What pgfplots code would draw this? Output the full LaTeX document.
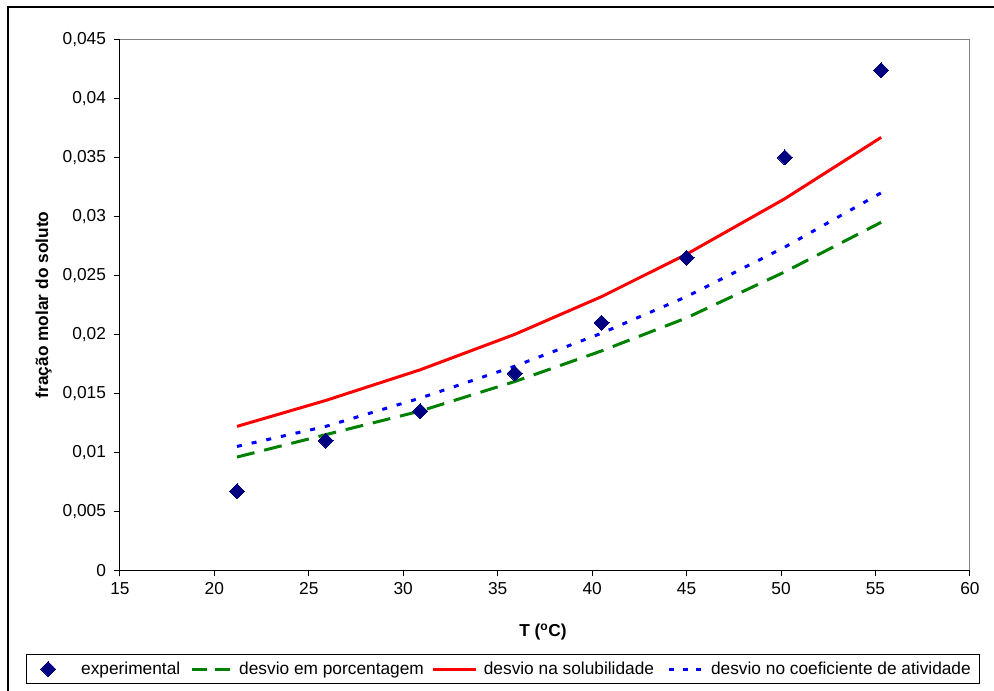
\documentclass[border=0pt]{standalone}
\usepackage{pgfplots}
\pgfplotsset{compat=1.18}
\usepackage{fontspec}
\setmainfont{Liberation Sans}
\definecolor{navyx}{RGB}{0,0,128}
\definecolor{greenx}{RGB}{0,128,0}
\definecolor{redx}{RGB}{255,0,0}
\definecolor{bluex}{RGB}{0,0,255}
\definecolor{grayx}{RGB}{128,128,128}
\begin{document}
\fontsize{17.3}{20}\selectfont
\begin{tikzpicture}
\useasboundingbox (-119.9pt,-120.7pt) rectangle (874.1pt,570.3pt);
\draw[line width=2.5pt] (-111.9pt,-130pt) -- (-111.9pt,563.3pt) -- (880pt,563.3pt);
\begin{axis}[
  scale only axis, width=850pt, height=530.8pt,
  at={(0pt,0pt)}, anchor=south west,
  xmin=15, xmax=60, ymin=0, ymax=0.045,
  xtick={15,20,25,30,35,40,45,50,55,60},
  ytick={0,0.005,0.01,0.015,0.02,0.025,0.03,0.035,0.04,0.045},
  axis lines=left, axis line style={-, black, line width=0.9pt},
  tick align=outside, major tick length=6pt, tick style={black, line width=0.9pt},
  scaled y ticks=false,
  tick label style={font=\fontsize{17.3}{20}\selectfont},
  yticklabel style={xshift=-2pt, /pgf/number format/fixed, /pgf/number format/precision=3, /pgf/number format/use comma, /pgf/number format/assume math mode=true},
  xticklabel style={/pgf/number format/assume math mode=true},
  ylabel={\bfseries fração molar do soluto},
  xlabel={\bfseries T (\textsuperscript{o}C)},
  label style={font=\fontsize{17.3}{20}\selectfont},
  ylabel style={at={(axis description cs:-0.0897,0.5)}, anchor=center},
  xlabel style={at={(axis description cs:0.4977,-0.1162)}, anchor=center},
  legend columns=4,
  legend style={at={(axis description cs:0.4507,-0.186)}, anchor=center,
    draw=black, line width=0.9pt, fill=white, inner xsep=9pt, inner ysep=7pt,
    font=\fontsize{17.3}{20}\selectfont,
    nodes={inner sep=0pt, anchor=west},
    /tikz/every odd column/.append style={column sep=6pt},
    /tikz/every even column/.append style={column sep=8pt}},
]
\draw[grayx, line width=0.9pt] (rel axis cs:0,1) -- (rel axis cs:1,1) -- (rel axis cs:1,0);

\addplot[only marks, mark=square*, mark size=5.3pt, mark options={rotate=45, fill=navyx, draw=navyx, line width=0pt},
  legend image code/.code={\path[draw=none, fill=none] (0pt,-6pt) rectangle (40pt,6pt); \draw[##1] plot coordinates {(13pt,0pt)};}]
  coordinates {(21.2,0.0067) (25.9,0.0110) (30.9,0.0135) (35.9,0.0167) (40.5,0.0210) (45.0,0.0265) (50.2,0.0350) (55.3,0.0424)};
\addlegendentry{experimental}

\addplot[greenx, line width=3pt, dash pattern=on 18pt off 10pt, mark=none,
  legend image code/.code={\path[draw=none, fill=none] (0pt,-6pt) rectangle (45pt,6pt); \draw[greenx, line width=3pt] (4pt,0pt) -- (19pt,0pt); \draw[greenx, line width=3pt] (27pt,0pt) -- (42pt,0pt);}]
  coordinates {(21.2,0.0096) (25.9,0.0115) (30.9,0.0135) (35.9,0.0160) (40.5,0.0186) (45.0,0.0214) (50.2,0.0253) (55.3,0.0295)};
\addlegendentry{desvio em porcentagem}

\addplot[redx, line width=3pt, mark=none,
  legend image code/.code={\path[draw=none, fill=none] (0pt,-6pt) rectangle (43pt,6pt); \draw[redx, line width=3pt] (0pt,0pt) -- (43pt,0pt);}]
  coordinates {(21.2,0.0122) (25.9,0.0144) (30.9,0.0170) (35.9,0.0200) (40.5,0.0232) (45.0,0.0268) (50.2,0.0315) (55.3,0.0367)};
\addlegendentry{desvio na solubilidade}

\addplot[bluex, line width=3pt, dash pattern=on 5pt off 10pt, mark=none,
  legend image code/.code={\path[draw=none, fill=none] (0pt,-6pt) rectangle (43pt,6pt); \draw[bluex, line width=3pt] (7pt,0pt) -- (13pt,0pt); \draw[bluex, line width=3pt] (21pt,0pt) -- (27pt,0pt); \draw[bluex, line width=3pt] (34pt,0pt) -- (40pt,0pt);}]
  coordinates {(21.2,0.0105) (25.9,0.0122) (30.9,0.0146) (35.9,0.0173) (40.5,0.0201) (45.0,0.0232) (50.2,0.0274) (55.3,0.0320)};
\addlegendentry{desvio no coeficiente de atividade}
\end{axis}
\end{tikzpicture}
\end{document}
